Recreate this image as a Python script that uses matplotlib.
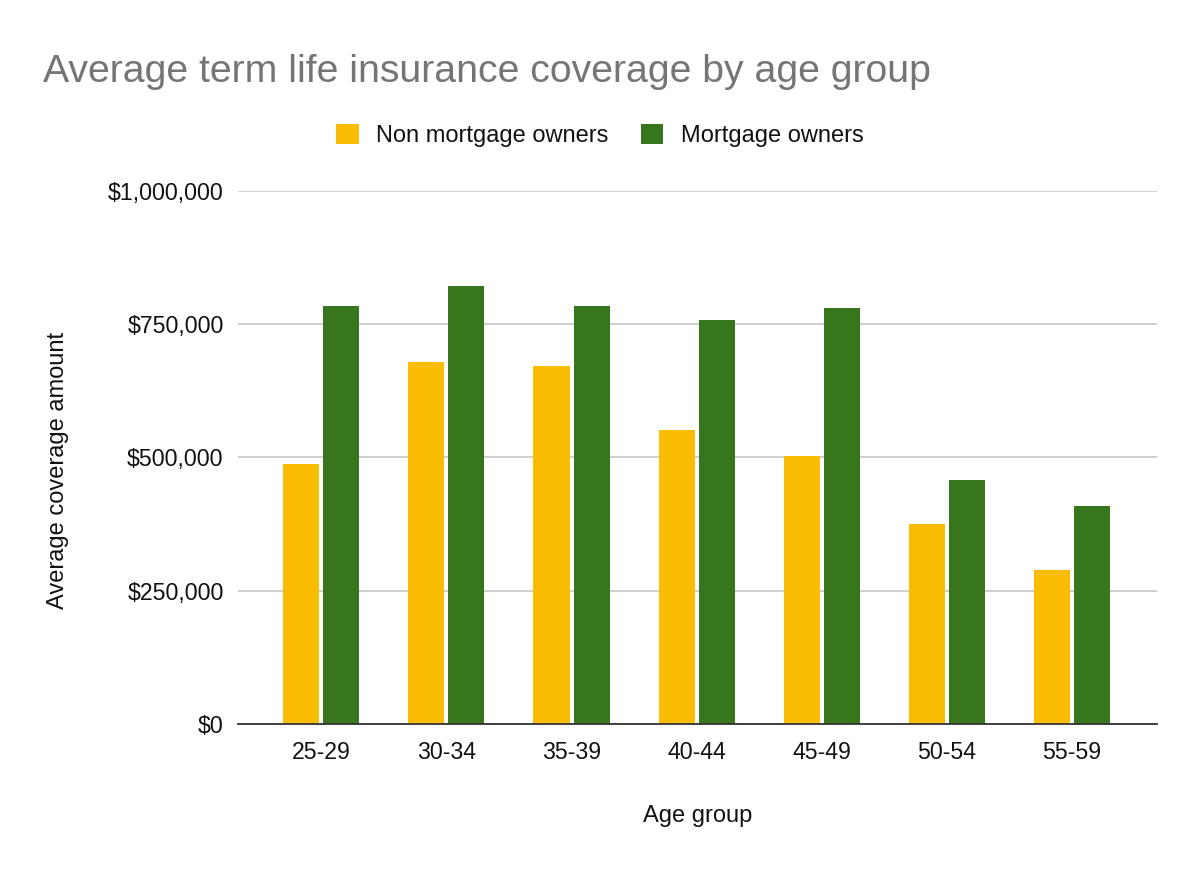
import matplotlib.pyplot as plt
import numpy as np
from matplotlib.ticker import FuncFormatter

plt.rcParams['font.family'] = ['Liberation Sans', 'DejaVu Sans']

age_groups = ["25-29", "30-34", "35-39", "40-44", "45-49", "50-54", "55-59"]
non_mortgage = [488000, 679000, 671000, 551000, 502000, 375000, 289000]
mortgage = [784000, 822000, 784000, 758000, 780000, 458000, 409000]

yellow = "#fbbc04"
green = "#38761d"
text_col = "#111111"

fig = plt.figure(figsize=(12, 8.72), dpi=100)
ax = fig.add_axes([0.198, 0.1697, 0.766, 0.6113])

x = np.arange(len(age_groups))
w = 0.288
ax.bar(x - 0.16, non_mortgage, w, color=yellow, label="Non mortgage owners", zorder=3)
ax.bar(x + 0.16, mortgage, w, color=green, label="Mortgage owners", zorder=3)

ax.set_xlim(-0.67, 6.68)
ax.set_ylim(0, 1000000)
ax.set_yticks([0, 250000, 500000, 750000, 1000000])
ax.yaxis.set_major_formatter(FuncFormatter(lambda v, p: f"${v:,.0f}"))
ax.set_xticks(x)
ax.set_xticklabels(age_groups)

ax.grid(axis="y", color="#cccccc", linewidth=1.3, zorder=0)
for s in ["top", "right", "left"]:
    ax.spines[s].set_visible(False)
ax.spines["bottom"].set_color("#333333")
ax.spines["bottom"].set_linewidth(1.3)
ax.spines["bottom"].set_zorder(4)
ax.tick_params(axis="both", length=0, labelsize=16.7, colors=text_col)
ax.tick_params(axis="x", pad=12)
ax.tick_params(axis="y", pad=10)

ax.set_xlabel("Age group", fontsize=17, color=text_col, labelpad=30)
ax.set_ylabel("Average coverage amount", fontsize=17, color=text_col)
ax.yaxis.set_label_coords(-0.183, 0.475)

fig.text(0.036, 0.906, "Average term life insurance coverage by age group",
         fontsize=28.3, color="#757575", va="baseline", ha="left")

fig.legend(loc="center", bbox_to_anchor=(0.5, 0.845), ncol=2, frameon=False,
           fontsize=17, handlelength=0.95, handleheight=0.95, columnspacing=1.35,
           handletextpad=0.75, labelcolor=text_col)

fig.savefig("out.png", dpi=100)
